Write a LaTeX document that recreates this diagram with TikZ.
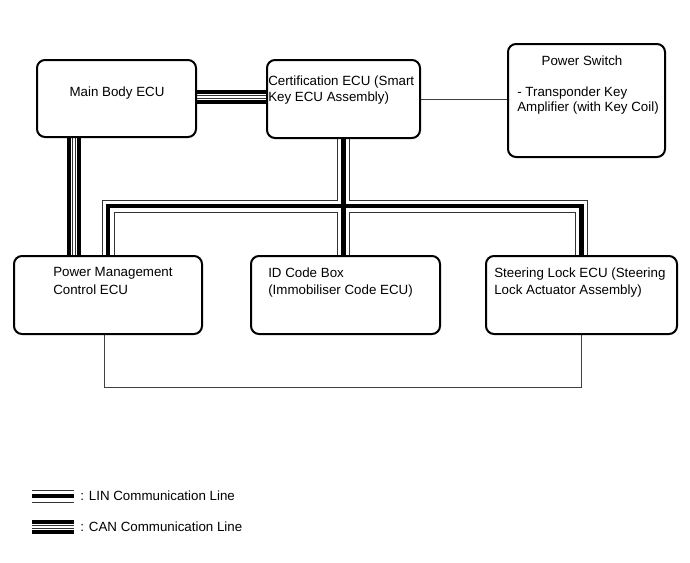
\documentclass[tikz,border=0pt]{standalone}
\usepackage{fontspec}
\setmainfont{Liberation Sans}
\pgfdeclarelayer{background}
\pgfsetlayers{background,main}
\tikzset{
  ecu/.style={draw, line width=1.5pt, rounded corners=6pt, inner sep=0pt},
  lbl/.style={inner sep=0pt, align=left, font=\fontsize{10pt}{12pt}\selectfont},
  lbltall/.style={lbl, font=\fontsize{10pt}{13pt}\selectfont},
  wire/.style={draw=black!75, line width=0.75pt},
  lin/.style={draw=black, line width=3.5pt,
    preaction={draw=black!80, line width=9.75pt},
    preaction={draw=white, line width=8.25pt}},
  can/.style={draw=white, line width=1.5pt,
    preaction={draw=black, line width=11pt},
    preaction={draw=white, line width=4.5pt},
    preaction={draw=black!80, line width=3pt}},
}
\begin{document}
\begin{tikzpicture}[x=0.75pt, y=-0.75pt]
    \useasboundingbox (0,0) rectangle (690,562);

    % Steuergeraete oben
    \node[ecu, minimum width=119.25pt, minimum height=57.75pt] (mb) at (116.5,98.5) {};
    \node[ecu, minimum width=114.75pt, minimum height=58.5pt] (cert) at (343.5,99) {};
    \node[ecu, minimum width=117.75pt, minimum height=84.75pt] (ps) at (586.5,100.5) {};
    \node[lbl, anchor=base] (mbt) at (117,96.5) {Main Body ECU};
    \node[lbl, anchor=north west] (certt) at (268,75.3) {Certification ECU (Smart\\Key ECU Assembly)};
    \node[lbl, anchor=base] (pst) at (582,65) {Power Switch};
    \node[lbl, anchor=north west, font=\fontsize{10pt}{11pt}\selectfont] (psb) at (517,87) {- Transponder Key\\Amplifier (with Key Coil)};

    % Steuergeraete unten
    \node[ecu, minimum width=141pt, minimum height=58.5pt] (pmc) at (108,295) {};
    \node[ecu, minimum width=141.75pt, minimum height=58.5pt] (idb) at (345.5,295) {};
    \node[ecu, minimum width=143.25pt, minimum height=58.5pt] (slk) at (581.5,295) {};
    \node[lbltall, anchor=north west] (pmct) at (53,267.3) {Power Management\\Control ECU};
    \node[lbltall, anchor=north west] (idbt) at (268,267.3) {ID Code Box\\(Immobiliser Code ECU)};
    \node[lbltall, anchor=north west] (slkt) at (494,267.3) {Steering Lock ECU (Steering\\Lock Actuator Assembly)};

    % Hilfspunkte fuer die Leitungen
    \coordinate (cany) at (0,97);
    \coordinate (canx) at (74,0);
    \coordinate (busy) at (0,206);
    \coordinate (pmcx) at (104,0);
    \coordinate (loopy) at (0,387);

    \begin{pgfonlayer}{background}
    % CAN
    \draw[can] (mb.east |- cany) -- (cert.west |- cany);
    \draw[can] (canx |- mb.south) -- (canx |- pmc.north);
    % LIN Bus
    \draw[lin] (cert.south) -- (cert.south |- idb.north)
      (pmc.north) -- (pmc.north |- busy) -- (slk.north |- busy) -- (slk.north);
    % einfache Leitungen
    \draw[wire] (cert.east) -- (cert.east -| ps.west);
    \draw[wire] (pmcx |- pmc.south) -- (pmcx |- loopy) -- (slk.south |- loopy) -- (slk.south);
    \end{pgfonlayer}

    % Legende
    \coordinate (linA) at (32,496);
    \coordinate (linB) at (74,496);
    \coordinate (canA) at (32,527);
    \coordinate (canB) at (74,527);
    \draw[lin] (linA) -- (linB);
    \draw[can] (canA) -- (canB);
    \node[lbl, anchor=base west] (lint) at (80,500.5) {: LIN Communication Line};
    \node[lbl, anchor=base west] (cant) at (80,531) {: CAN Communication Line};
\end{tikzpicture}
\end{document}
